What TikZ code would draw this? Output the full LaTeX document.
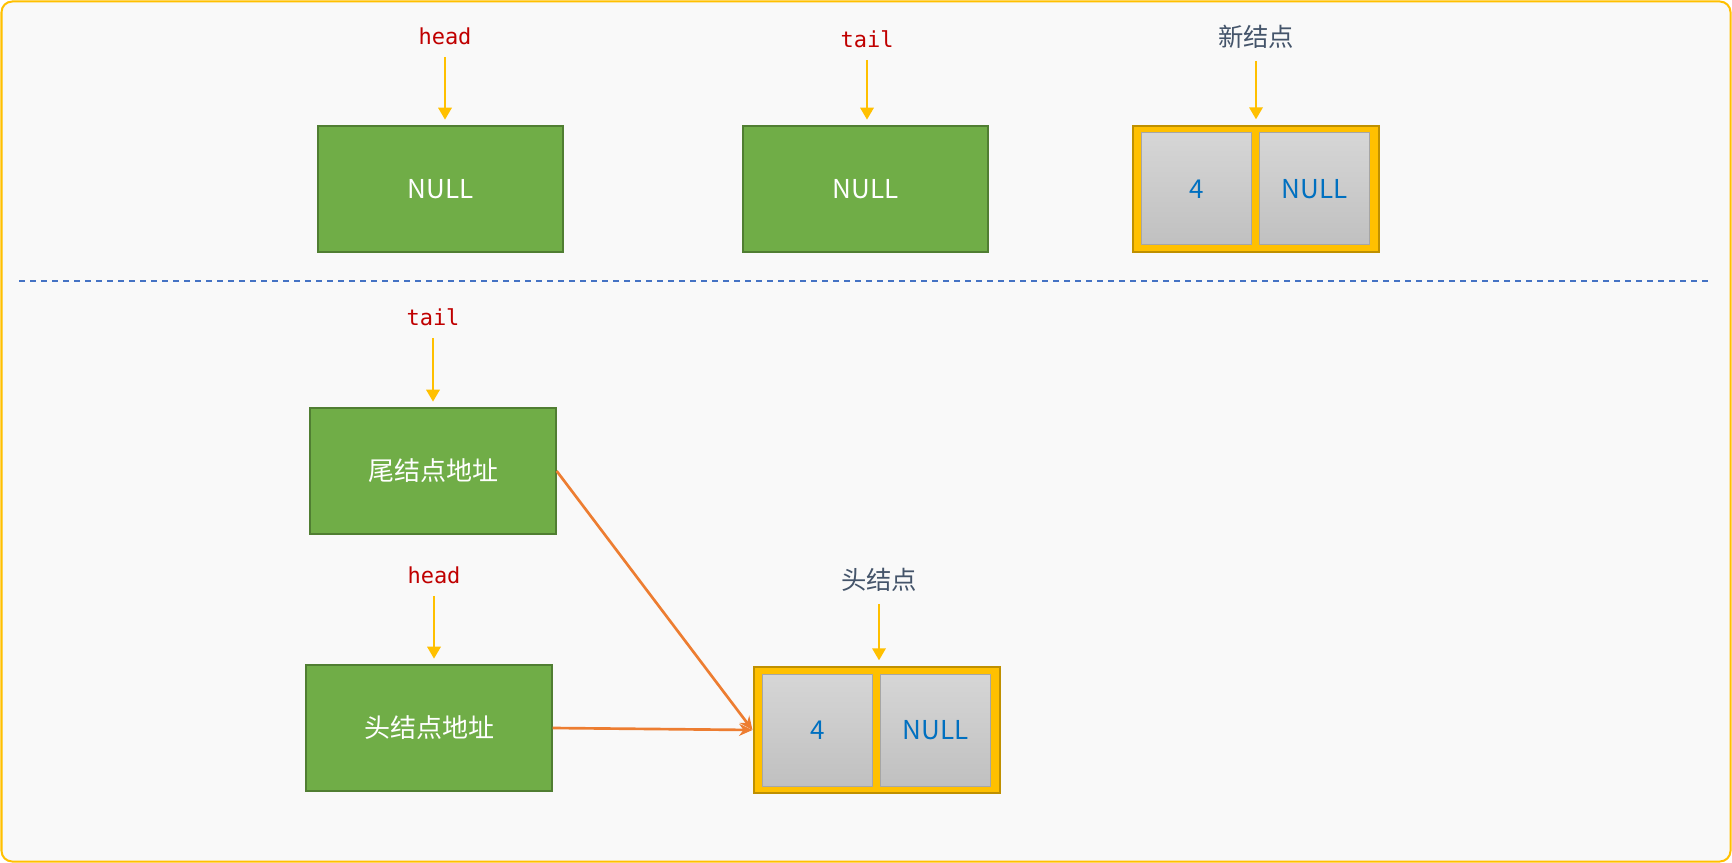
\documentclass[tikz,border=0pt]{standalone}
\usepackage{fontspec}
\newfontfamily\cjk{Noto Sans CJK SC}
\setmonofont{DejaVu Sans Mono}
\usetikzlibrary{arrows.meta,positioning}

\definecolor{bg}{HTML}{F9F9F9}
\definecolor{frame}{HTML}{FFC000}
\definecolor{boxfill}{HTML}{70AD47}
\definecolor{boxline}{HTML}{507E32}
\definecolor{nodefill}{HTML}{FFC000}
\definecolor{nodeline}{HTML}{BF9000}
\definecolor{cellline}{HTML}{A6A6A6}
\definecolor{celltop}{HTML}{D6D6D6}
\definecolor{cellbot}{HTML}{C0C0C0}
\definecolor{celltext}{HTML}{0070C0}
\definecolor{ptrred}{HTML}{C00000}
\definecolor{taggray}{HTML}{44546A}
\definecolor{sepblue}{HTML}{4472C4}
\definecolor{pointer}{HTML}{FFC000}
\definecolor{linkor}{HTML}{ED7D31}

\begin{document}
\begin{tikzpicture}[x=0.75pt, y=-0.75pt,
    box/.style={draw=boxline, fill=boxfill, line width=1.5pt, minimum width=184pt, minimum height=94.5pt, text=white, font=\cjk\fontsize{19.5}{23}\selectfont},
    nodebox/.style={draw=nodeline, fill=nodefill, line width=1.5pt, minimum width=184.5pt, minimum height=95pt},
    cell/.style={draw=cellline, line width=0.75pt, top color=celltop, bottom color=cellbot, minimum width=82.5pt, minimum height=84pt, text=celltext, font=\cjk\fontsize{19.5}{23}\selectfont},
    ptr/.style={text=ptrred, font=\ttfamily\fontsize{16.5}{20}\selectfont, inner sep=2pt},
    tag/.style={text=taggray, font=\cjk\fontsize{19}{23}\selectfont, inner sep=2pt},
    pto/.style={draw=pointer, line width=1.75pt, -{Triangle[width=10pt,length=9pt]}, shorten <=7pt, shorten >=4pt},
    link/.style={draw=linkor, line width=2pt, -{Stealth[width=9pt,length=10pt]}}]

    \useasboundingbox (0,0) rectangle (1732,863);
    \draw[draw=frame, fill=bg, line width=1.5pt, rounded corners=8pt] (1.5,1.5) rectangle (1730.5,861.5);

    % before inserting
    \node[box] (headA) at (440.5,189) {NULL};
    \node[box] (tailA) at (865.5,189) {NULL};
    \node[nodebox] (newnode) at (1255.5,189) {};
    \node[cell, anchor=west] (newval) at ([xshift=7pt]newnode.west) {4};
    \node[cell, anchor=east] (newnext) at ([xshift=-7pt]newnode.east) {NULL};

    \node[ptr] (headlblA) at (445,36) {head};
    \node[ptr] (taillblA) at (867,39) {tail};
    \node[tag] (newlbl) at (1256,37) {新结点};

    \draw[pto] (headlblA) -- (headlblA |- headA.north);
    \draw[pto] (taillblA) -- (taillblA |- tailA.north);
    \draw[pto] (newlbl) -- (newlbl |- newnode.north);

    \draw[sepblue, line width=1.5pt, dash pattern=on 4.5pt off 3.75pt] (19,281) -- (1710,281);

    % after inserting
    \node[box] (tailB) at (433,471) {尾结点地址};
    \node[box] (headB) at (429,728) {头结点地址};
    \node[nodebox] (headnode) at (876.5,730) {};
    \node[cell, anchor=west] (headval) at ([xshift=7pt]headnode.west) {4};
    \node[cell, anchor=east] (headnext) at ([xshift=-7pt]headnode.east) {NULL};

    \node[ptr] (taillblB) at (433,317) {tail};
    \node[ptr] (headlblB) at (434,575) {head};
    \node[tag] (headnodelbl) at (879,580) {头结点};

    \draw[pto] (taillblB) -- (taillblB |- tailB.north);
    \draw[pto] (headlblB) -- (headlblB |- headB.north);
    \draw[pto] (headnodelbl) -- (headnodelbl |- headnode.north);

    \draw[link] (tailB.east) -- (headnode.west);
    \draw[link] (headB.east) -- (headnode.west);
\end{tikzpicture}
\end{document}
